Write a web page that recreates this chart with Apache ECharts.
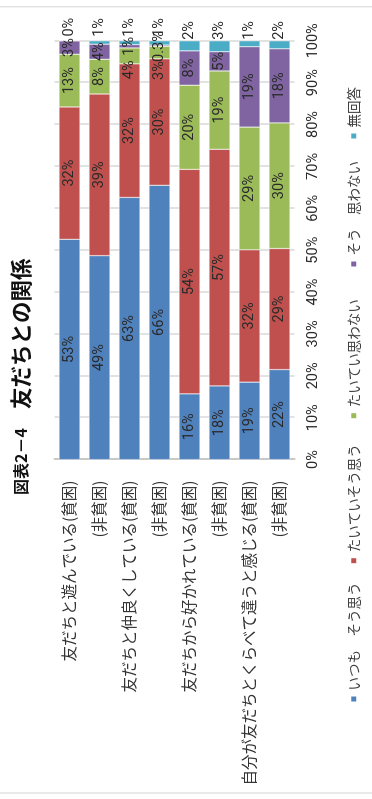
<!DOCTYPE html>
<html lang="ja">
<head>
<meta charset="utf-8">
<title>友だちとの関係</title>
<script src="https://cdn.jsdelivr.net/npm/echarts@6/dist/echarts.min.js"></script>
<style>
  html, body { margin: 0; padding: 0; background: #fff; overflow: hidden; }
  body { width: 372px; height: 799px; position: relative; }
  /* chart is laid out landscape and turned a quarter turn counter-clockwise */
  #stage {
    position: absolute; left: 0; top: 0;
    width: 799px; height: 372px;
    transform-origin: 0 0;
    transform: translateY(799px) rotate(-90deg);
    background: #fff;
  }
</style>
</head>
<body>
<div id="stage"></div>
<script>
// ---- data ---------------------------------------------------------------
const categories = [
  '友だちと遊んでいる(貧困)',
  '(非貧困)',
  '友だちと仲良くしている(貧困)',
  '(非貧困)',
  '友だちから好かれている(貧困)',
  '(非貧困)',
  '自分が友だちとくらべて違うと感じる(貧困)',
  '(非貧困)'
];
const seriesNames = ['いつも　そう思う', 'たいていそう思う', 'たいてい思わない', 'そう　思わない', '無回答'];

// shares in percent, one value per category
const always     = [52.6, 48.7, 62.6, 65.5, 15.7, 17.6, 18.5, 21.5];
const usually    = [31.6, 38.6, 31.9, 30.2, 53.6, 56.5, 31.6, 28.9];
const usuallyNot = [12.6,  8.3,  3.8,  3.0, 20.1, 18.7, 29.3, 30.0];
const never      = [ 3.2,  3.6,  0.8,  0.3,  8.2,  4.6, 19.2, 17.7];
const noAnswer   = [ 0.0,  0.8,  0.9,  1.0,  2.4,  2.6,  1.4,  1.9];

const valueTicks = [0, 10, 20, 30, 40, 50, 60, 70, 80, 90, 100];

// ---- styling ------------------------------------------------------------
const colors = ['#4F81BD', '#C0504D', '#9BBB59', '#8064A2', '#4BACC6'];
const numFont = "Roboto, 'Liberation Sans', sans-serif";
const jpFont = "'Noto Sans CJK JP', 'Noto Sans', sans-serif";

const seriesValues = [always, usually, usuallyNot, never, noAnswer];

function pctText(v) {
  if (v > 0 && v < 0.5) return v.toFixed(1) + '%';
  return Math.round(v) + '%';
}

// hand-placed labels where neighbouring small segments would collide
function labelNudge(s, i) {
  if (s === 2 && i === 2) return { offset: [-14, 0] };
  if (s === 2 && i === 3) return { offset: [-18, 0] };
  if (s === 3 && i === 3) return { offset: [-1, 0] };
  if (s === 4) return { distance: i < 4 ? 4 : 1 };
  return null;
}

const series = seriesValues.map((vals, s) => ({
  name: seriesNames[s],
  type: 'bar',
  stack: 'total',
  barWidth: '70%',
  itemStyle: { color: colors[s], borderColor: '#ffffff', borderWidth: 0.4 },
  label: {
    show: true,
    position: s === 4 ? 'right' : 'inside',
    fontFamily: numFont,
    fontSize: 14.5,
    color: '#2a2a2a',
    formatter: p => pctText(p.value)
  },
  data: vals.map((v, i) => {
    const item = { value: v };
    const n = labelNudge(s, i);
    if (n) item.label = n;
    return item;
  })
}));

// one legend block per series so each entry sits where it belongs
const legendLeft = [90.5, 228.8, 373.8, 525.5, 653.5];
const legends = seriesNames.map((name, s) => ({
  data: [name],
  left: legendLeft[s],
  top: 342,
  icon: 'rect',
  itemWidth: 7,
  itemHeight: 7,
  itemGap: 0,
  selectedMode: false,
  textStyle: { fontFamily: jpFont, fontSize: 13.5, color: '#404040' }
}));

const chart = echarts.init(document.getElementById('stage'), null, { renderer: 'canvas', width: 799, height: 372 });

chart.setOption({
  animation: false,
  color: colors,
  title: {
    text: '{a|図表2－4}{b|友だちとの関係}',
    left: 299,
    top: 5,
    textStyle: {
      rich: {
        a: { fontFamily: jpFont, fontWeight: 'bold', fontSize: 16, color: '#111', padding: [0, 19, 0, 0] },
        b: { fontFamily: jpFont, fontWeight: 'bold', fontSize: 21.5, color: '#111' }
      }
    }
  },
  legend: legends,
  grid: { left: 339.4, right: 40.8, top: 54.5, bottom: 77.5 },
  xAxis: {
    type: 'value',
    min: valueTicks[0],
    max: valueTicks[valueTicks.length - 1],
    interval: valueTicks[1] - valueTicks[0],
    axisLine: { show: false },
    axisTick: { show: false },
    splitLine: { lineStyle: { color: '#d9d9d9', width: 1.5 } },
    axisLabel: {
      margin: 11,
      fontFamily: numFont,
      fontSize: 14.5,
      color: '#2a2a2a',
      formatter: '{value}%'
    }
  },
  yAxis: {
    type: 'category',
    inverse: true,
    data: categories,
    axisLine: { show: true, lineStyle: { color: '#c8c8c8', width: 2 } },
    axisTick: { show: false },
    axisLabel: {
      margin: 21,
      fontFamily: jpFont,
      fontSize: 15.5,
      color: '#333'
    }
  },
  graphic: [
    { type: 'line', shape: { x1: 6, y1: 0, x2: 6, y2: 372 }, style: { stroke: '#e2e2e2', lineWidth: 1.5 }, silent: true },
    { type: 'line', shape: { x1: 792.3, y1: 0, x2: 792.3, y2: 372 }, style: { stroke: '#e2e2e2', lineWidth: 1.5 }, silent: true }
  ],
  series
});
</script>
</body>
</html>
